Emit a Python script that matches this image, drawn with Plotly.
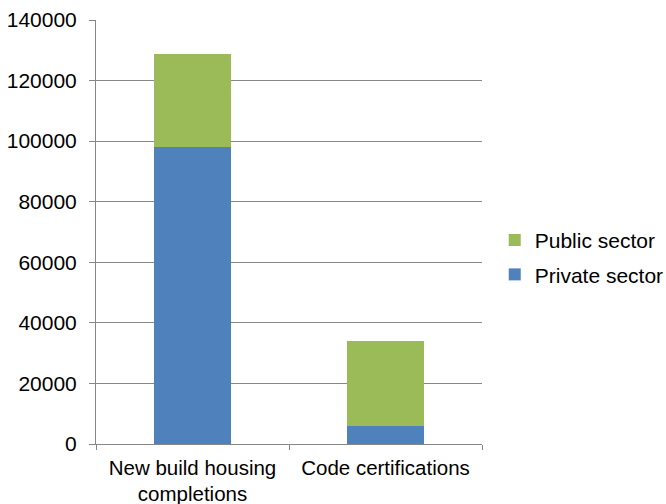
import plotly.graph_objects as go

categories = ["New build housing<br>completions", "Code certifications"]
private_sector = [98000, 6000]
public_sector = [30700, 28100]
y_ticks = [0, 20000, 40000, 60000, 80000, 100000, 120000, 140000]

FONT = "Liberation Sans, Arial, sans-serif"
GRID = "#878787"

fig = go.Figure()
fig.add_trace(go.Bar(x=categories, y=private_sector, name="Private sector",
                     marker=dict(color="#4F81BD", line=dict(width=0)),
                     legendgroup="b", legendrank=2))
fig.add_trace(go.Bar(x=categories, y=public_sector, name="Public sector",
                     marker=dict(color="#9BBB59", line=dict(width=0)),
                     legendgroup="a", legendrank=1))

fig.update_layout(
    width=666, height=504,
    barmode="stack", bargap=0.6,
    plot_bgcolor="white", paper_bgcolor="white",
    margin=dict(l=96, r=184, t=20, b=60, autoexpand=False),
    font=dict(family=FONT, size=21, color="black"),
    legend=dict(x=1.033, xanchor="left", y=0.44, yanchor="middle",
                traceorder="grouped", tracegroupgap=4,
                font=dict(size=21), itemwidth=30),
    xaxis=dict(showline=True, linecolor=GRID, linewidth=1,
               ticks="outside", ticklen=5, tickcolor=GRID, tickson="boundaries",
               showgrid=False, tickfont=dict(size=20.5), ticklabelstandoff=5),
    yaxis=dict(range=[0, 140000], tickvals=y_ticks, tickformat="d",
               showline=True, linecolor=GRID, linewidth=1,
               ticks="outside", ticklen=6, tickcolor=GRID,
               showgrid=True, gridcolor=GRID, gridwidth=1,
               zeroline=False, ticklabelstandoff=8, tickfont=dict(size=21)),
)

fig.write_html("out.html")
